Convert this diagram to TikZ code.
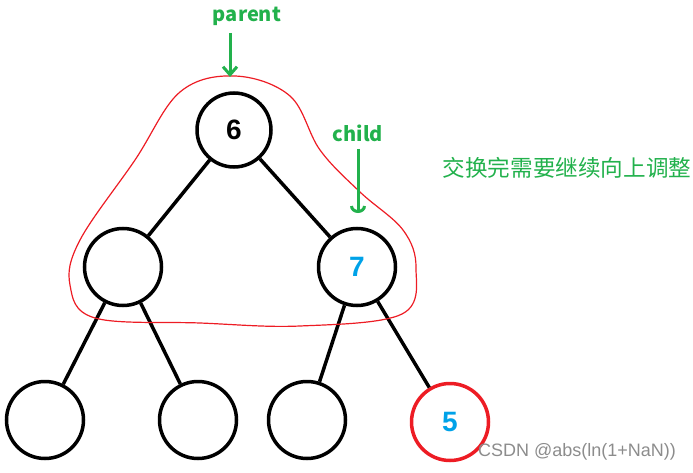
\documentclass[tikz,border=0pt]{standalone}
\usepackage{fontspec}
\setmainfont{Liberation Sans}
\newfontfamily\cjk{Noto Sans CJK SC}
\usetikzlibrary{arrows.meta}
\definecolor{paintgreen}{RGB}{34,177,76}
\definecolor{paintblue}{RGB}{0,162,232}
\definecolor{paintred}{RGB}{237,28,36}

\begin{document}
\begin{tikzpicture}[x=1pt,y=-1pt,
  heapnode/.style={circle,draw=black,line width=3.5pt,minimum size=77pt,inner sep=0pt,font=\fontsize{28}{28}\selectfont\bfseries},
  heapedge/.style={line width=3.5pt},
  pointer/.style={paintgreen,line width=3pt},
  tag/.style={text=paintgreen,font=\cjk\fontsize{20}{20}\selectfont\bfseries}]
\useasboundingbox (0,0) rectangle (693,473);
% tree
\node[heapnode,minimum size=74pt] (n6) at (234,130) {6};
\node[heapnode] (nl) at (123,267) {};
\node[heapnode,text=paintblue] (n7) at (357,267) {7};
\node[heapnode] (l1) at (45,420) {};
\node[heapnode] (l2) at (198,420) {};
\node[heapnode] (l3) at (307,420) {};
\node[heapnode,draw=paintred,text=paintblue] (n5) at (450,422) {5};
\foreach \a/\b in {n6/nl,n6/n7,nl/l1,nl/l2,n7/l3,n7/n5}
  \draw[heapedge] (\a) -- (\b);
% swapped part
\draw[paintred,line width=1.2pt] plot[smooth cycle,tension=0.6] coordinates {
  (235,76) (290,96) (320,150) (360,192) (403,230) (416,268) (402,314)
  (300,326) (200,323) (95,318) (70,285) (80,240) (135,160) (180,92)};
% labels
\node[tag] (parent) at (247,16) {parent};
\node[tag] (child) at (358,133) {child};
\coordinate (ptop) at (230,77);
\coordinate (ctop) at (358,213);
\draw[pointer,-{Straight Barb[length=8pt,width=14pt]}] (parent.south -| ptop) ++(0,4) -- (ptop);
\draw[pointer,-{Arc Barb[length=7pt,width=16pt]}] (child.south) ++(0,4) -- (ctop);
\node[text=paintgreen,font=\cjk\fontsize{22.6}{22.6}\selectfont] (note) at (567,168) {交换完需要继续向上调整};
\node[text=black!45,font=\fontsize{18}{18}\selectfont] (mark) at (577,452) {CSDN @abs(ln(1+NaN))};
\end{tikzpicture}
\end{document}
